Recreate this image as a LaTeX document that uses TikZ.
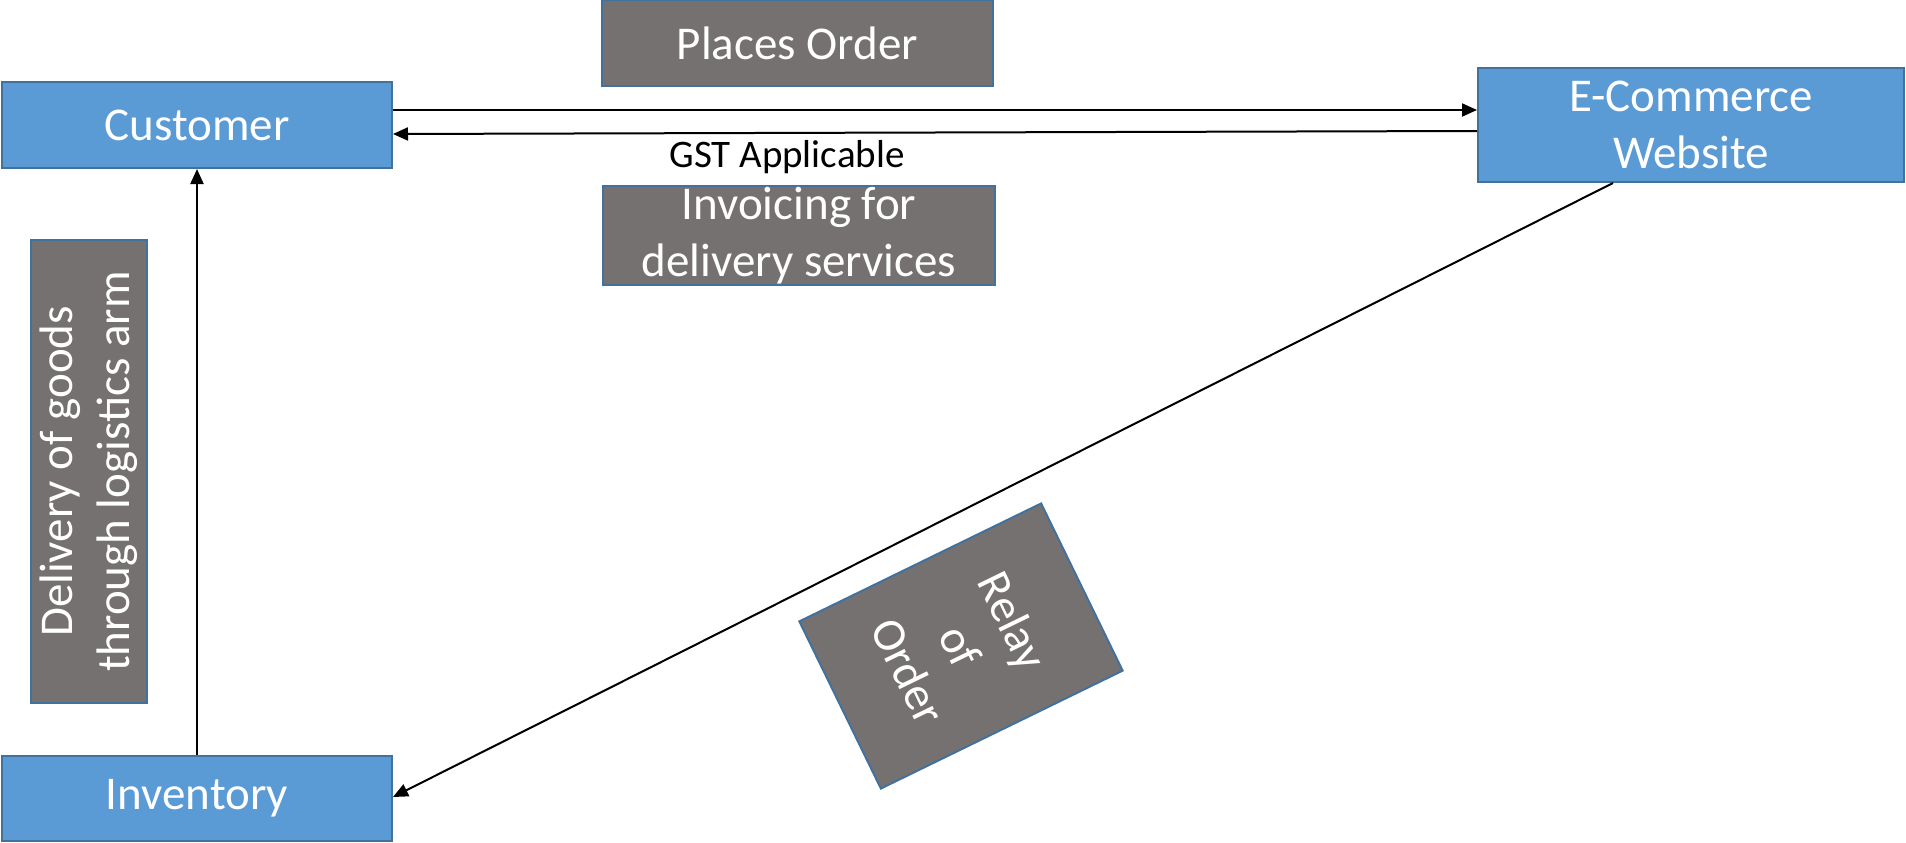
\documentclass[tikz,border=0pt]{standalone}
\usepackage{fontspec}
\setmainfont{Carlito}
\usetikzlibrary{arrows.meta}
\definecolor{boxblue}{HTML}{5B9BD5}
\definecolor{boxedge}{HTML}{41719C}
\definecolor{boxgray}{HTML}{767171}
\tikzset{
  party/.style={draw=boxedge, fill=boxblue, line width=2pt, inner sep=0pt,
    text=white, align=center, font=\fontsize{47}{57}\selectfont},
  note/.style={draw=boxedge, fill=boxgray, line width=2pt, inner sep=0pt,
    text=white, align=center, font=\fontsize{47}{57}\selectfont},
  flow/.style={line width=2pt, -{Triangle[length=15pt,width=13pt]}},
}
\begin{document}
\begin{tikzpicture}[x=1pt, y=-1pt]
  \useasboundingbox (0,0) rectangle (1906,843);

  % participants
  \node[party, minimum width=390, minimum height=86] (cust) at (197,125) {Customer};
  \node[party, minimum width=426, minimum height=114] (ecom) at (1691,125) {E-Commerce\\Website};
  \node[party, minimum width=390, minimum height=85] (stock) at (197,798.5) {Inventory};

  % annotations
  \node[note, minimum width=391, minimum height=86] (order) at (797.5,43) {Places Order};
  \node[note, minimum width=392, minimum height=99] (invoice) at (799,235.5) {Invoicing for\\delivery services};
  \node[note, rotate=90, minimum width=463, minimum height=116] (deliv) at (89,471.5)
    {Delivery of goods\\through logistics arm};
  \node[note, rotate=-64, minimum width=186, minimum height=269,
    font=\fontsize{47}{58}\selectfont] (relay) at (961,646)
    {Relay\\of\\Order};
  \node[font=\fontsize{39}{47}\selectfont] (gst) at (787,157) {GST Applicable};

  % flows
  \draw[flow] ([yshift=15pt]cust.east) -- ([yshift=15pt]cust.east -| ecom.west);
  \draw[flow] ([yshift=-6pt]ecom.west) -- ([yshift=-9pt]cust.east);
  \draw[flow] ([xshift=-78pt]ecom.south) -- ([yshift=1.5pt]stock.east);
  \draw[flow] (stock.north) -- (cust.south);
\end{tikzpicture}
\end{document}
